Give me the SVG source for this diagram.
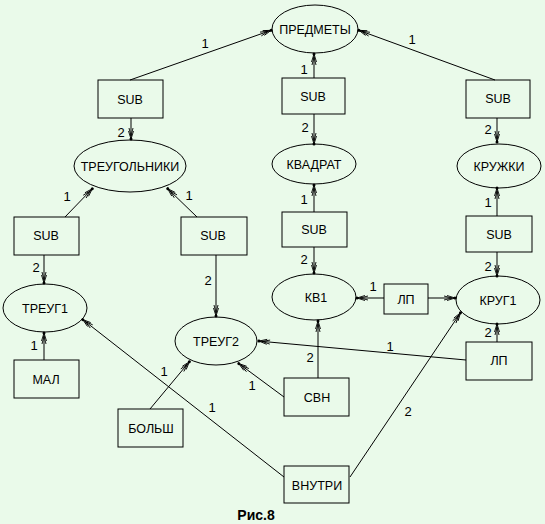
<svg xmlns="http://www.w3.org/2000/svg" width="545" height="524" viewBox="0 0 545 524">
<defs>
<marker id="ar" markerUnits="userSpaceOnUse" markerWidth="16" markerHeight="10" viewBox="-14 -5 16 10" refX="0" refY="0" orient="auto" overflow="visible">
<path d="M-9,-2.5 L-1,0 L-9,2.5 M-12,-2 L-4,0 L-12,2" fill="none" stroke="#000" stroke-width="0.9"/>
<circle cx="-1" cy="0" r="1.5" fill="#000"/>
</marker>
<style>
.n ellipse,.n rect{fill:none;stroke:#000;stroke-width:1}
.n text{font-family:"Liberation Sans",Arial,sans-serif;font-size:12.5px;text-anchor:middle;fill:#000}
#edges line{stroke:#000;stroke-width:1;marker-end:url(#ar)}
#edges text{font-family:"Liberation Sans",Arial,sans-serif;font-size:13px;text-anchor:middle;fill:#000}
</style>
</defs>
<rect x="0" y="0" width="545" height="524" fill="#eafaea"/>
<g id="edges">
<line x1="130" y1="80" x2="272" y2="30"/><text x="205" y="48">1</text>
<line x1="131" y1="118" x2="131" y2="140"/><text x="121" y="137">2</text>
<line x1="314" y1="78" x2="314" y2="53"/><text x="304" y="74">1</text>
<line x1="314" y1="114" x2="314" y2="145"/><text x="305" y="132">2</text>
<line x1="495" y1="80" x2="358" y2="30"/><text x="412" y="44">1</text>
<line x1="497" y1="118" x2="497" y2="143"/><text x="488" y="134">2</text>
<line x1="65" y1="217" x2="93" y2="188"/><text x="67" y="201">1</text>
<line x1="197" y1="217" x2="167" y2="188"/><text x="189" y="200">1</text>
<line x1="44" y1="255" x2="44" y2="284"/><text x="36" y="272">2</text>
<line x1="216" y1="255" x2="216" y2="317"/><text x="208" y="285">2</text>
<line x1="314" y1="212" x2="314" y2="184"/><text x="304" y="204">1</text>
<line x1="314" y1="247" x2="314" y2="274"/><text x="304" y="264">2</text>
<line x1="497" y1="216" x2="497" y2="187"/><text x="488" y="207">1</text>
<line x1="497" y1="252" x2="497" y2="277"/><text x="488" y="271">2</text>
<line x1="384" y1="298" x2="356" y2="298"/><text x="373" y="291">1</text>
<line x1="428" y1="298" x2="456" y2="298"/>
<line x1="497" y1="342" x2="497" y2="323"/><text x="488" y="337">2</text>
<line x1="466" y1="360" x2="258" y2="341"/><text x="390" y="351">1</text>
<line x1="44" y1="360" x2="44" y2="332"/><text x="34" y="350">1</text>
<line x1="150" y1="409" x2="190" y2="361"/><text x="164" y="376">1</text>
<line x1="284" y1="397" x2="238" y2="363"/><text x="252" y="390">1</text>
<line x1="318" y1="378" x2="318" y2="320"/><text x="310" y="362">2</text>
<line x1="284" y1="477" x2="82" y2="319"/><text x="212" y="412">1</text>
<line x1="350" y1="477" x2="461" y2="312"/><text x="408" y="416">2</text>
</g>
<g id="predmety" class="n"><ellipse cx="315" cy="29" rx="43" ry="24"/><text x="315" y="34">ПРЕДМЕТЫ</text></g>
<g id="sub1" class="n"><rect x="98" y="80" width="65" height="38"/><text x="130" y="104">SUB</text></g>
<g id="sub2" class="n"><rect x="282" y="78" width="63" height="36"/><text x="313" y="101">SUB</text></g>
<g id="sub3" class="n"><rect x="466" y="80" width="64" height="38"/><text x="498" y="103">SUB</text></g>
<g id="treugolniki" class="n"><ellipse cx="130" cy="166" rx="56" ry="26"/><text x="130" y="171">ТРЕУГОЛЬНИКИ</text></g>
<g id="kvadrat" class="n"><ellipse cx="314" cy="164" rx="42" ry="20"/><text x="314" y="169">КВАДРАТ</text></g>
<g id="kruzhki" class="n"><ellipse cx="499" cy="166" rx="42" ry="22"/><text x="499" y="171">КРУЖКИ</text></g>
<g id="sub4" class="n"><rect x="14" y="217" width="65" height="38"/><text x="46" y="240">SUB</text></g>
<g id="sub5" class="n"><rect x="181" y="217" width="66" height="38"/><text x="213" y="240">SUB</text></g>
<g id="sub6" class="n"><rect x="282" y="212" width="65" height="35"/><text x="314" y="234">SUB</text></g>
<g id="sub7" class="n"><rect x="466" y="216" width="66" height="36"/><text x="499" y="239">SUB</text></g>
<g id="treug1" class="n"><ellipse cx="45" cy="308" rx="42" ry="24"/><text x="45" y="313">ТРЕУГ1</text></g>
<g id="treug2" class="n"><ellipse cx="216" cy="341" rx="41" ry="24"/><text x="216" y="346">ТРЕУГ2</text></g>
<g id="kv1" class="n"><ellipse cx="314" cy="297" rx="42" ry="23"/><text x="316" y="302">КВ1</text></g>
<g id="lp1" class="n"><rect x="384" y="284" width="44" height="30"/><text x="406" y="304">ЛП</text></g>
<g id="krug1" class="n"><ellipse cx="498" cy="300" rx="42" ry="24"/><text x="498" y="305">КРУГ1</text></g>
<g id="lp2" class="n"><rect x="466" y="342" width="66" height="38"/><text x="499" y="365">ЛП</text></g>
<g id="mal" class="n"><rect x="14" y="360" width="65" height="38"/><text x="46" y="384">МАЛ</text></g>
<g id="bolsh" class="n"><rect x="118" y="409" width="65" height="38"/><text x="151" y="433">БОЛЬШ</text></g>
<g id="svn" class="n"><rect x="284" y="378" width="65" height="38"/><text x="317" y="402">СВН</text></g>
<g id="vnutri" class="n"><rect x="284" y="466" width="65" height="37"/><text x="317" y="490">ВНУТРИ</text></g>
<text x="256" y="520" font-family="Liberation Sans,Arial,sans-serif" font-size="14" font-weight="bold" text-anchor="middle">Рис.8</text>
</svg>
